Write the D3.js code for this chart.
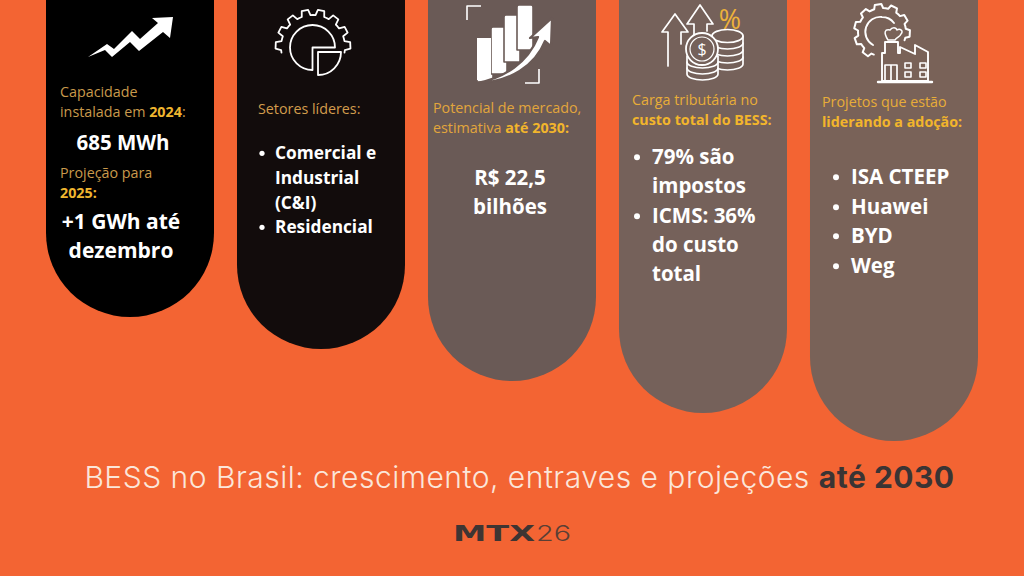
<!DOCTYPE html>
<html><head><meta charset="utf-8">
<script src="https://cdn.jsdelivr.net/npm/d3@7/dist/d3.min.js"></script>
<style>html,body{margin:0;padding:0;background:#F36433;overflow:hidden}svg{display:block}text{font-family:"Open Sans",sans-serif}</style>
</head><body><svg id="c" width="1024" height="576"></svg>
<script>
const cards = ["c1","c2","c3","c4","c5"];
const pillDepths = [317,349,381,413,441];
const pillColors = ["#000000","#120C0C","#6A5A56","#75615A","#796258"];
const captions = [
 [[["Capacidade",0]],[["instalada em ",0],["2024",1],[":",0]]],
 [[["Setores líderes:",0]]],
 [[["Potencial de mercado,",0]],[["estimativa ",0],["até 2030:",1]]],
 [[["Carga tributária no",0]],[["custo total do BESS:",1]]],
 [[["Projetos que estão",0]],[["liderando a adoção:",1]]]
];
const bulletLists = [null,
 [["Comercial e","Industrial","(C&I)"],["Residencial"]],
 null,
 [["79% são","impostos"],["ICMS: 36%","do custo","total"]],
 [["ISA CTEEP"],["Huawei"],["BYD"],["Weg"]]
];
const titleParts = ["BESS no Brasil: crescimento, entraves e projeções ","até 2030"];
const logoParts = ["MTX","26"];

const svg = d3.select("#c");
const W=1024,H=576,ORANGE="#F36433",WHITE="#FFFFFF";
const x = d3.scaleBand().domain(cards).range([46,978]).paddingInner(0.1204).paddingOuter(0);
const y = d3.scaleLinear().domain([0,H]).range([0,H]);
svg.append("rect").attr("width",W).attr("height",H).attr("fill",ORANGE);
svg.selectAll("rect.pill").data(cards).join("rect").attr("class","pill")
 .attr("x",d=>x(d)).attr("width",x.bandwidth())
 .attr("y",-200).attr("height",(d,i)=>y(pillDepths[i])+200)
 .attr("rx",x.bandwidth()/2).attr("fill",(d,i)=>pillColors[i]);

function rich(px,py,runs,size,reg,bold,anchor){
 const t=svg.append("text").attr("x",px).attr("y",py).attr("font-size",size).attr("text-anchor",anchor||"start");
 runs.forEach(([s,b])=>t.append("tspan").text(s).attr("fill",b?bold:reg).attr("font-weight",b?700:400));
 return t;
}
const capLayout=[{x:60,y:[97,117],r:"#C99A4C",b:"#EFB52F"},{x:258,y:[114],r:"#D29C4C",b:"#EFB52F"},
 {x:433,y:[113,133],r:"#E2A63C",b:"#F2B52C"},{x:632,y:[105,125],r:"#E8AD38",b:"#F2B52C"},{x:822,y:[107,127],r:"#E8AD38",b:"#F2B52C"}];
captions.forEach((lines,i)=>lines.forEach((runs,j)=>rich(capLayout[i].x,capLayout[i].y[j],runs,14.3,capLayout[i].r,capLayout[i].b)));
rich(60,178,[["Projeção para",0]],14.3,"#C99A4C","#EFB52F");
rich(60,198,[["2025:",1]],14.3,"#C99A4C","#EFB52F");

function big(cx,py,s,size){svg.append("text").attr("x",cx).attr("y",py).attr("text-anchor","middle").attr("font-size",size).attr("font-weight",700).attr("fill",WHITE).text(s);}
big(123,150,"685 MWh",20.5);big(121,229,"+1 GWh até",21);big(121,258,"dezembro",21);
big(510,185,"R$ 22,5",20.5);big(510,214,"bilhões",20.5);

const listLayout={1:{dot:262,tx:275,size:17.3,ys:[[159,184,209],[233]],r:2.6},
 3:{dot:637,tx:652,size:20.5,ys:[[164,193],[223,252,281]],r:3},
 4:{dot:836,tx:851,size:20.5,ys:[[184],[214],[243],[273]],r:3}};
Object.entries(listLayout).forEach(([k,l])=>{
 bulletLists[k].forEach((item,a)=>{
  svg.append("circle").attr("cx",l.dot).attr("cy",l.ys[a][0]-l.size*0.33).attr("r",l.r).attr("fill",WHITE);
  item.forEach((s,b)=>svg.append("text").attr("x",l.tx).attr("y",l.ys[a][b]).attr("font-size",l.size).attr("font-weight",700).attr("fill",WHITE).text(s));
 });
});

// title
const tt=svg.append("text").attr("x",519.5).attr("y",488).attr("text-anchor","middle").attr("font-size",30).attr("letter-spacing",0.5);
tt.style("font-family","Inter,sans-serif");
tt.append("tspan").text(titleParts[0]).attr("fill","#FBE6DA").attr("font-weight",300);
tt.append("tspan").text(titleParts[1]).attr("fill","#3A3434").attr("font-weight",700);

// logo
svg.append("text").attr("x",453).attr("y",541).attr("font-size",22).attr("font-weight",700).attr("fill","#3E3533")
 .attr("textLength",82).attr("lengthAdjust","spacingAndGlyphs").style("font-family","DejaVu Sans").text(logoParts[0]);
svg.append("text").attr("x",536).attr("y",541).attr("font-size",22).attr("font-weight",300).attr("fill","#5A3F35")
 .attr("textLength",35).attr("lengthAdjust","spacingAndGlyphs").style("font-family","Inter").text(logoParts[1]);

// icons
const ic=svg.append("g").attr("fill","none").attr("stroke",WHITE).attr("stroke-linejoin","round").attr("stroke-linecap","round");
ic.append("path").attr("stroke","none").attr("fill",WHITE).attr("d","M88,57L107,44L114,49L132,31L140,39L158,23L152,18L173,17L170,38L163,32L139,51L130,42L112,57L105,50Z");
function gear(cx,cy,r,R,a0,a1,n,sw){
 const pts=[];const step=(a1-a0)/n;
 for(let i=0;i<n;i++){const a=a0+i*step,w=step;
  const p=(rad,t)=>{const an=(a+t*w)*Math.PI/180;return [cx+rad*Math.cos(an),cy+rad*Math.sin(an)];};
  pts.push(p(r,0),p(r,.18),p(R,.3),p(R,.7),p(r,.82));}
 pts.push([cx+r*Math.cos(a1*Math.PI/180),cy+r*Math.sin(a1*Math.PI/180)]);
 ic.append("path").attr("d",d3.line()(pts)).attr("stroke-width",sw);
}
gear(313,47,32,37.5,-190,10,8,1.8);
const arc=d3.arc();
ic.append("path").attr("transform","translate(312.5,47.5)").attr("stroke-width",1.8)
 .attr("d",arc({innerRadius:0,outerRadius:22.5,startAngle:Math.PI,endAngle:Math.PI*2.5}));
ic.append("path").attr("transform","translate(318,52)").attr("stroke-width",1.8)
 .attr("d",arc({innerRadius:0,outerRadius:23,startAngle:Math.PI/2,endAngle:Math.PI}));
// 3 bars and arrow
const c3="#6A5A56";
[[477,38,16,42],[491,27,16,45],[504,15,16,45],[517,5,16,43]].forEach(([a,b,w,h])=>
 ic.append("path").attr("stroke",c3).attr("stroke-width",1.6).attr("fill",WHITE).attr("d",`M${a+2},${b}h${w-4}q2,0 2,2v${h}h-${w}v-${h}q0,-2 2,-2z`));
ic.append("path").attr("stroke",WHITE).attr("stroke-width",0).attr("fill",WHITE).attr("d","M477,38h14v42h-14z");
ic.append("path").attr("stroke-width",1.6).attr("stroke-linecap","butt").attr("d","M467,20V6H481M525,83H539V69");
ic.append("path").attr("stroke",c3).attr("stroke-width",2.2).attr("fill",WHITE)
 .attr("d","M477,83C505,78 528,62 538,37L530,38L552,18L551,46L545,41C535,66 510,82 477,83Z");
// 4 arrows, coins, percent
const c4=pillColors[3];
ic.append("path").attr("stroke-width",1.7).attr("d","M668,66V32H662L675,14L688,32H681V44M694,36V24H687L700,5L713,24H707V31");
ic.append("path").attr("stroke-width",1.7).attr("fill",c4).attr("d","M712,36a15.5,6.5 0 0 1 31,0v28a15.5,6 0 0 1 -31,0Z");
ic.append("path").attr("stroke-width",1.7).attr("d","M712,36a15.5,6.5 0 0 0 31,0M712,43a15.5,6 0 0 0 31,0M712,50a15.5,6 0 0 0 31,0M712,57a15.5,6 0 0 0 31,0");
ic.append("path").attr("stroke-width",1.7).attr("fill",c4).attr("d","M687,56v18a15.5,6 0 0 0 31,0v-18Z");
ic.append("path").attr("stroke-width",1.7).attr("d","M687,62a15.5,6 0 0 0 31,0M687,68a15.5,6 0 0 0 31,0");
ic.append("circle").attr("cx",702).attr("cy",49).attr("r",16).attr("fill",c4).attr("stroke-width",1.8);
ic.append("circle").attr("cx",702).attr("cy",49).attr("r",12).attr("stroke-width",1.2);
svg.append("text").attr("x",702).attr("y",55).attr("text-anchor","middle").attr("font-size",16).attr("fill",WHITE).text("$");
svg.append("text").attr("x",730).attr("y",29).attr("text-anchor","middle").attr("font-size",27).attr("fill","#EDB13A").text("%");
// 5 gear and factory
const c5=pillColors[4];
gear(882,32,24,28,110,380,8,2);
ic.append("path").attr("stroke-width",1.9).attr("d","M873,45a15,15 0 0 1 9,-28a15,15 0 0 1 12,6");
ic.append("path").attr("fill",c5).attr("stroke-width",1.9)
 .attr("d","M882,81V53H885V42H898V53H900V47L915,54V45L928,52V81Z");
ic.append("path").attr("fill",c5).attr("stroke-width",1.5).attr("d","M888,40c-5,-8 -3,-11 2,-10c2,-3 6,-3 7,0c3,-2 7,1 4,4c-1,3 -4,3 -6,6Z");
ic.append("path").attr("stroke-width",2.4).attr("d","M878,82H932");
ic.append("path").attr("stroke-width",1.7).attr("d","M885,81V65H897V81M891,65V81");
ic.selectAll(null).data([[905,63],[920,63],[905,72],[920,72]]).join("rect")
 .attr("x",d=>d[0]).attr("y",d=>d[1]).attr("width",6).attr("height",5).attr("stroke-width",1.6);
</script></body></html>
